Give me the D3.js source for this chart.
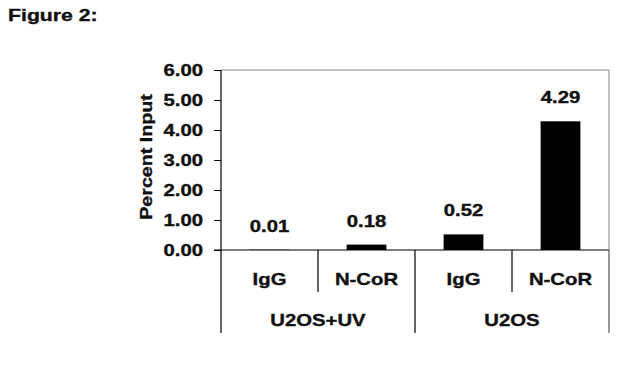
<!DOCTYPE html>
<html><head><meta charset="utf-8">
<script src="https://cdn.jsdelivr.net/npm/d3@7"></script>
<style>body{margin:0;background:#fff}svg{display:block}text{font-family:Arial,"Liberation Sans",sans-serif;font-weight:bold;fill:#111;stroke:#111;stroke-width:0.35px}</style>
</head><body>
<script>
const categories = ["IgG", "N-CoR", "IgG", "N-CoR"];
const groups = ["U2OS+UV", "U2OS"];
const values = [0.01, 0.18, 0.52, 4.29];
const valueLabels = ["0.01", "0.18", "0.52", "4.29"];
const yTicks = [0, 1, 2, 3, 4, 5, 6];

(function () {
const W = 640, H = 382, SX = 1.27;
const svg = d3.select("body").append("svg").attr("width", W).attr("height", H);
const pL = 221, pR = 609, pT = 70, pB = 250;

const x = d3.scaleBand().domain(d3.range(categories.length)).range([pL, pR]).paddingInner(0.59).paddingOuter(0.295);
const xCell = d3.scaleBand().domain(d3.range(categories.length)).range([pL, pR]);
const y = d3.scaleLinear().domain([0, 6]).range([pB, pT]);

function txt(s, px, py, anchor, rot, fs, sx) {
  return svg.append("text").text(s)
    .attr("text-anchor", anchor || "middle")
    .attr("font-size", fs || 16)
    .attr("transform", `translate(${px},${py}) rotate(${rot || 0}) scale(${sx || SX},1)`);
}

txt("Figure 2:", 8, 20.5, "start", 0, 17, 1.25);

svg.append("path").attr("d", `M${pL},${pT}H${pR}V${pB}`).attr("fill", "none").attr("stroke", "#888").attr("stroke-width", 1);

svg.selectAll("rect.bar").data(values).join("rect").attr("class", "bar")
  .attr("x", (d, i) => x(i)).attr("width", x.bandwidth())
  .attr("y", d => y(d)).attr("height", d => pB - y(d)).attr("fill", "#000");

valueLabels.forEach((s, i) => txt(s, xCell(i) + xCell.bandwidth() / 2, y(values[i]) - 18, "middle"));

const yAxis = d3.axisLeft(y).tickValues(yTicks).tickFormat(d3.format(".2f")).tickSize(7).tickPadding(0);
const ya = svg.append("g").attr("transform", `translate(${pL},0)`).call(yAxis);
ya.select(".domain").attr("stroke", "#000").attr("stroke-width", 1.2).attr("d", `M0,${pT}V${pB}`);
ya.selectAll(".tick line").attr("stroke", "#000");
ya.selectAll(".tick text").each(function (d) {
  const t = d3.select(this);
  const s = t.text();
  t.remove();
  txt(s, 203, y(d) + 5.5, "end");
});

txt("Percent Input", 152, 157, "middle", -90, 16, 1.23);

svg.append("line").attr("x1", pL - 7).attr("x2", pR).attr("y1", pB).attr("y2", pB).attr("stroke", "#000").attr("stroke-width", 1.2);

const cellEdges = d3.range(categories.length + 1).map(i => i < categories.length ? xCell(i) : pR);
cellEdges.forEach((e, i) => {
  const isGroup = i % 2 === 0;
  svg.append("line").attr("x1", e).attr("x2", e).attr("y1", pB).attr("y2", isGroup ? 333 : 292)
    .attr("stroke", i === categories.length ? "#555" : "#000").attr("stroke-width", 1.2);
});

categories.forEach((c, i) => txt(c, xCell(i) + xCell.bandwidth() / 2, 284.5, "middle"));
groups.forEach((g, gi) => txt(g, (xCell(gi * 2) + (gi * 2 + 2 < categories.length ? xCell(gi * 2 + 2) : pR)) / 2, 326, "middle"));
})();
</script>
</body></html>
